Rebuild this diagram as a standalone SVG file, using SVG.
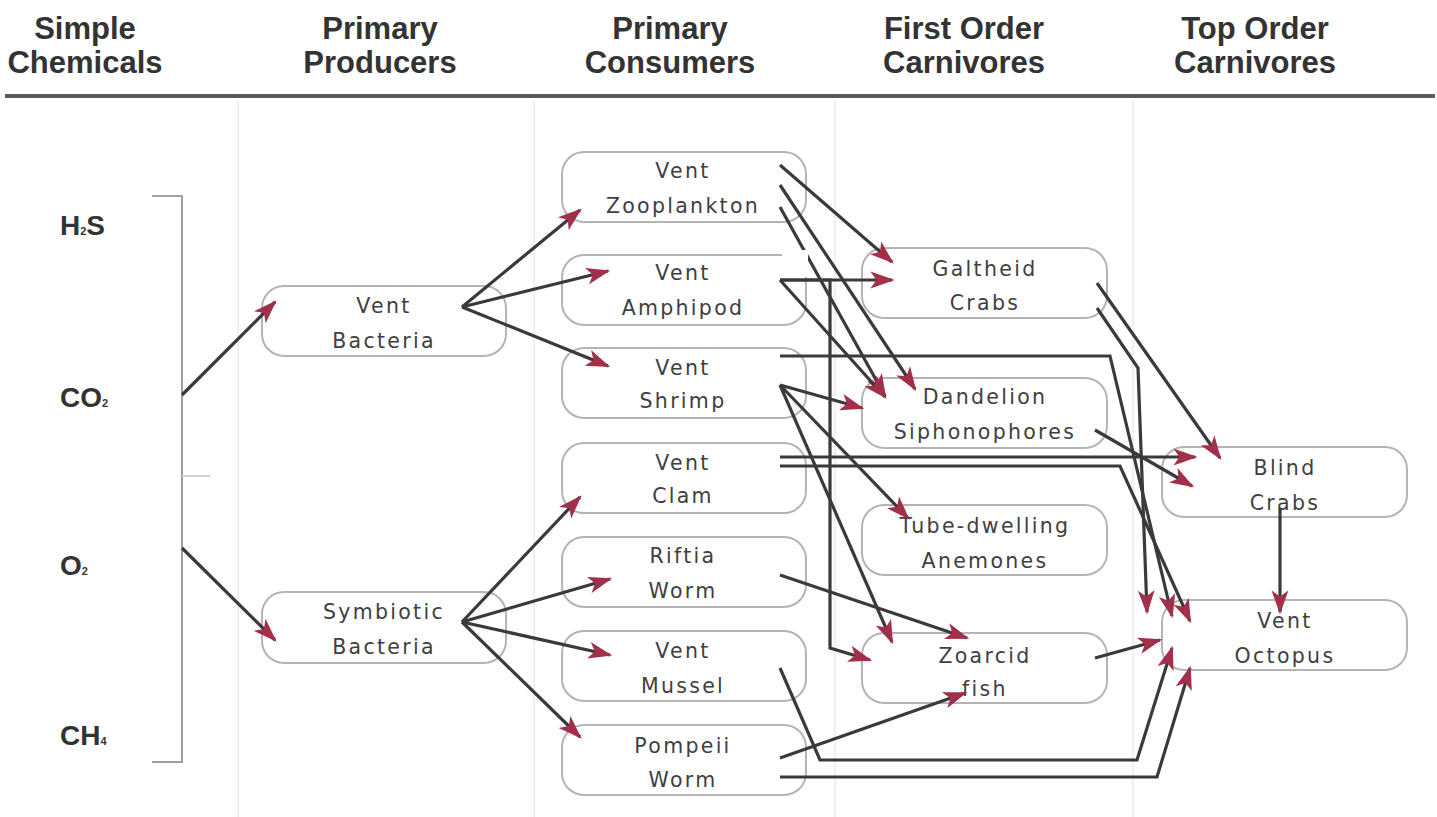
<svg xmlns="http://www.w3.org/2000/svg" width="1437" height="817" viewBox="0 0 1437 817">
<style>
.hdr{font-family:"Liberation Sans",Arial,sans-serif;font-weight:bold;font-size:31px;fill:#333;text-anchor:middle}
.chem{font-family:"Liberation Sans",Arial,sans-serif;font-weight:bold;font-size:28px;fill:#333}
.sub{font-size:11px}
.box{fill:#fff;stroke:#b4b4b4;stroke-width:2}
.lbl{font-family:"DejaVu Sans",Verdana,sans-serif;font-size:20.5px;letter-spacing:2.3px;fill:#404040;text-anchor:middle}
.sep{stroke:#ebebeb;stroke-width:1.5}
.br{stroke:#a0a0a0;stroke-width:2;fill:none}
.c{stroke:#3a3a3a;stroke-width:3.2;fill:none;marker-end:url(#ah)}
</style>
<defs>
<marker id="ah" viewBox="0 0 20 14" refX="18" refY="7" markerWidth="24" markerHeight="18" markerUnits="userSpaceOnUse" orient="auto">
<path d="M0,0 L20,7 L0,14 L5,7 z" fill="#a3304a"/>
</marker>
</defs>
<rect width="1437" height="817" fill="#fff"/>
<g id="separators">
<line class="sep" x1="238" y1="100" x2="238" y2="817"/>
<line class="sep" x1="534" y1="100" x2="534" y2="817"/>
<line class="sep" x1="835" y1="100" x2="835" y2="817"/>
<line class="sep" x1="1133" y1="100" x2="1133" y2="817"/>
</g>
<g id="header">
<text class="hdr" x="85" y="39">Simple</text><text class="hdr" x="85" y="73">Chemicals</text>
<text class="hdr" x="380" y="39">Primary</text><text class="hdr" x="380" y="73">Producers</text>
<text class="hdr" x="670" y="39">Primary</text><text class="hdr" x="670" y="73">Consumers</text>
<text class="hdr" x="964" y="39">First Order</text><text class="hdr" x="964" y="73">Carnivores</text>
<text class="hdr" x="1255" y="39">Top Order</text><text class="hdr" x="1255" y="73">Carnivores</text>
<line x1="5" y1="96" x2="1435" y2="96" stroke="#5a5a5a" stroke-width="4"/>
</g>
<g id="chemicals">
<text class="chem" x="60" y="235">H<tspan class="sub">2</tspan>S</text>
<text class="chem" x="60" y="407">CO<tspan class="sub">2</tspan></text>
<text class="chem" x="60" y="575">O<tspan class="sub">2</tspan></text>
<text class="chem" x="60" y="745">CH<tspan class="sub">4</tspan></text>
<path class="br" d="M152,196 H182 V762 H152"/>
<line x1="182" y1="476" x2="210" y2="476" stroke="#d0d0d0" stroke-width="2"/>
</g>
<g id="vent-bacteria"><rect class="box" x="262" y="286" width="244" height="70" rx="22"/><text class="lbl" x="384" y="313">Vent</text><text class="lbl" x="384" y="348">Bacteria</text></g>
<g id="symbiotic-bacteria"><rect class="box" x="262" y="592" width="244" height="71" rx="22"/><text class="lbl" x="384" y="619">Symbiotic</text><text class="lbl" x="384" y="654">Bacteria</text></g>
<g id="vent-zooplankton"><rect class="box" x="562" y="152" width="244" height="70" rx="22"/><text class="lbl" x="683" y="178">Vent</text><text class="lbl" x="683" y="213">Zooplankton</text></g>
<g id="vent-amphipod"><rect class="box" x="562" y="255" width="244" height="70" rx="22"/><text class="lbl" x="683" y="280">Vent</text><text class="lbl" x="683" y="315">Amphipod</text></g>
<g id="vent-shrimp"><rect class="box" x="562" y="348" width="244" height="70" rx="22"/><text class="lbl" x="683" y="375">Vent</text><text class="lbl" x="683" y="408">Shrimp</text></g>
<g id="vent-clam"><rect class="box" x="562" y="443" width="244" height="70" rx="22"/><text class="lbl" x="683" y="470">Vent</text><text class="lbl" x="683" y="503">Clam</text></g>
<g id="riftia-worm"><rect class="box" x="562" y="537" width="244" height="70" rx="22"/><text class="lbl" x="683" y="563">Riftia</text><text class="lbl" x="683" y="598">Worm</text></g>
<g id="vent-mussel"><rect class="box" x="562" y="631" width="244" height="70" rx="22"/><text class="lbl" x="683" y="658">Vent</text><text class="lbl" x="683" y="693">Mussel</text></g>
<g id="pompeii-worm"><rect class="box" x="562" y="725" width="244" height="70" rx="22"/><text class="lbl" x="683" y="753">Pompeii</text><text class="lbl" x="683" y="787">Worm</text></g>
<g id="galtheid-crabs"><rect class="box" x="862" y="248" width="245" height="70" rx="22"/><text class="lbl" x="985" y="276">Galtheid</text><text class="lbl" x="985" y="310">Crabs</text></g>
<g id="dandelion-siphonophores"><rect class="box" x="862" y="378" width="245" height="70" rx="22"/><text class="lbl" x="985" y="404">Dandelion</text><text class="lbl" x="985" y="439">Siphonophores</text></g>
<g id="tube-dwelling-anemones"><rect class="box" x="862" y="505" width="245" height="70" rx="22"/><text class="lbl" x="985" y="533">Tube-dwelling</text><text class="lbl" x="985" y="568">Anemones</text></g>
<g id="zoarcid-fish"><rect class="box" x="862" y="633" width="245" height="70" rx="22"/><text class="lbl" x="985" y="663">Zoarcid</text><text class="lbl" x="985" y="696">fish</text></g>
<g id="blind-crabs"><rect class="box" x="1162" y="447" width="245" height="70" rx="22"/><text class="lbl" x="1285" y="475">Blind</text><text class="lbl" x="1285" y="510">Crabs</text></g>
<g id="vent-octopus"><rect class="box" x="1162" y="600" width="245" height="70" rx="22"/><text class="lbl" x="1285" y="628">Vent</text><text class="lbl" x="1285" y="663">Octopus</text></g>
<g id="connectors">
<path class="c" d="M182,395 L275,302"/>
<path class="c" d="M182,548 L275,640"/>
<path class="c" d="M462,307 L580,210"/>
<path class="c" d="M462,307 L608,271"/>
<path class="c" d="M462,307 L608,366"/>
<path class="c" d="M462,622 L580,497"/>
<path class="c" d="M462,622 L610,579"/>
<path class="c" d="M462,622 L610,655"/>
<path class="c" d="M462,622 L580,737"/>
<path class="c" d="M780,165 L892,262"/>
<path class="c" d="M780,185 L915,389"/>
<path class="c" d="M780,207 L885,396"/>
<path class="c" d="M780,280 L885,397"/>
<path class="c" d="M780,280 L892,280"/>
<path class="c" d="M780,280 L830,280 L830,648 L870,660"/>
<path class="c" d="M780,385 L862,408"/>
<path class="c" d="M780,385 L908,518"/>
<path class="c" d="M780,385 L892,642"/>
<path class="c" d="M780,356 L1110,356 L1172,616"/>
<path class="c" d="M780,457 L1195,457"/>
<path class="c" d="M780,466 L1120,466 L1190,621"/>
<path class="c" d="M780,575 L967,638"/>
<path class="c" d="M780,668 L820,760 L1137,760 L1172,648"/>
<path class="c" d="M780,758 L965,693"/>
<path class="c" d="M780,777 L1157,777 L1190,668"/>
<path class="c" d="M1097,283 L1220,458"/>
<path class="c" d="M1097,308 L1138,368 L1147,612"/>
<path class="c" d="M1095,430 L1192,486"/>
<path class="c" d="M1095,658 L1160,640"/>
<path class="c" d="M1280,508 L1280,612"/>
</g>
<rect x="782" y="250" width="26" height="27" fill="#fff"/>
</svg>
